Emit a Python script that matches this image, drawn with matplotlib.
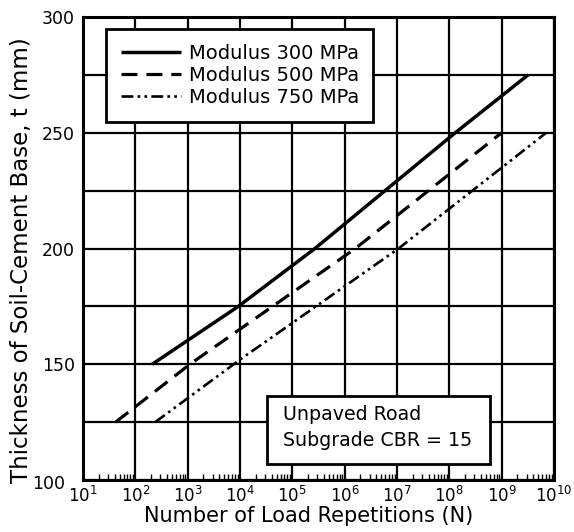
import matplotlib.pyplot as plt
from matplotlib.patches import Rectangle
from matplotlib.ticker import LogLocator, FixedLocator, FuncFormatter, NullFormatter
from matplotlib.transforms import ScaledTranslation

# values (N = load repetitions, t = thickness in mm)
n_300 = [2.1e2, 9.3e3, 2.7e5, 1.3e8, 3.2e9]
t_300 = [150, 175, 200, 250, 275]

n_500 = [4.2e1, 1.1e3, 1.6e6, 1.0e9]
t_500 = [125, 150, 200, 250]

n_750 = [2.4e2, 1.0e4, 1.07e7, 7.1e9]
t_750 = [125, 152, 200, 250]

labels = ["Modulus 300 MPa", "Modulus 500 MPa", "Modulus 750 MPa"]
y_ticks = [100, 125, 150, 175, 200, 225, 250, 275, 300]
x_exponents = list(range(1, 11))

fig = plt.figure(figsize=(5.74, 5.32), dpi=100)
ax = fig.add_axes([83 / 574, 52 / 532, 471 / 574, 463 / 532])

ax.plot(n_300, t_300, color="black", lw=2.5, solid_capstyle="butt", label=labels[0], zorder=3)
ax.plot(n_500, t_500, color="black", lw=2.3, dashes=(5, 2.8), label=labels[1], zorder=3)
ax.plot(n_750, t_750, color="black", lw=1.9,
        dashes=(4.5, 1.6, 1.0, 1.6, 1.0, 1.6), label=labels[2], zorder=3)

ax.set_xscale("log")
ax.set_xlim(10 ** x_exponents[0], 10 ** x_exponents[-1])
ax.set_ylim(100, 300)

ax.xaxis.set_major_locator(FixedLocator([10.0 ** e for e in x_exponents]))
ax.set_xticklabels([r"$10^{%d}$" % e for e in x_exponents])
ax.xaxis.set_minor_locator(LogLocator(base=10, subs=range(2, 10), numticks=50))
ax.xaxis.set_minor_formatter(NullFormatter())
ax.yaxis.set_major_locator(FixedLocator(y_ticks))
ax.yaxis.set_major_formatter(FuncFormatter(lambda v, p: "%d" % v if v % 50 == 0 else ""))

ax.tick_params(axis="x", which="major", length=0, pad=4, labelsize=12)
ax.tick_params(axis="x", which="minor", direction="in", length=4, width=1.0)
ax.tick_params(axis="y", which="major", length=0, pad=6, labelsize=12.5)

# corner label "100" sits further left
for lbl in ax.get_yticklabels():
    if lbl.get_text() == "100":
        lbl.set_transform(lbl.get_transform() + ScaledTranslation(-10 / 100, -2 / 100, fig.dpi_scale_trans))

ax.grid(True, which="major", color="black", lw=1.6)
for s in ax.spines.values():
    s.set_linewidth(2.2)

ax.set_xlabel("Number of Load Repetitions (N)", fontsize=15)
ax.xaxis.set_label_coords(0.48, -0.057)
ax.set_ylabel("Thickness of Soil-Cement Base, t (mm)", fontsize=16.5)
ax.yaxis.set_label_coords(-0.106, 0.475)

leg = ax.legend(loc="upper left", bbox_to_anchor=(23 / 471, 451 / 463), borderaxespad=0,
                fontsize=14, handlelength=3.1, handletextpad=0.4, labelspacing=0.17,
                borderpad=0.75, fancybox=False, framealpha=1, edgecolor="black")
leg.get_frame().set_linewidth(2.0)
leg.set_zorder(5)

box = Rectangle((184 / 471, 16 / 463), 223 / 471, 68 / 463, transform=ax.transAxes,
                facecolor="white", edgecolor="black", lw=2.0, zorder=5)
ax.add_patch(box)
ax.text(200 / 471, 66 / 463, "Unpaved Road", transform=ax.transAxes, fontsize=13.7,
        va="center", ha="left", zorder=6)
ax.text(200 / 471, 40 / 463, "Subgrade CBR = 15", transform=ax.transAxes, fontsize=13.7,
        va="center", ha="left", zorder=6)

fig.savefig("out.png", dpi=100)
